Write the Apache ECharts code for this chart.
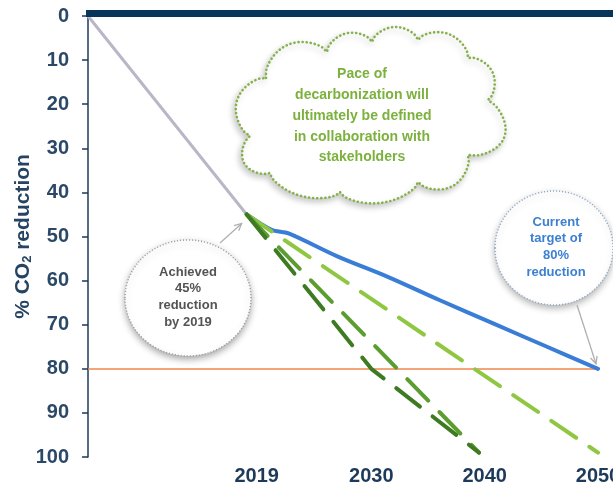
<!DOCTYPE html>
<html>
<head>
<meta charset="utf-8">
<script src="https://cdn.jsdelivr.net/npm/echarts@6/dist/echarts.min.js"></script>
<style>
  html, body { margin: 0; padding: 0; background: #ffffff; }
  #chart { width: 613px; height: 491px; }
</style>
</head>
<body>
<div id="chart"></div>
<script>
// Tick labels on the time axis
const yearLabels = [2019, 2030, 2040, 2050];

// Historic emissions reduction (%)
const historyYears = [2005, 2019];
const historyValues = [0, 45];

// Current target path to 80% by 2050
const targetYears = [2019, 2021.2, 2022.7, 2027, 2031.5, 2036, 2041, 2045.5, 2050];
const targetValues = [45, 48.5, 49.3, 54.5, 59.2, 64.4, 70, 75, 80];

// Possible faster decarbonization pathways
const path2050Years = [2019, 2050];
const path2050Values = [45, 99];
const path2040Years = [2019, 2039.5];
const path2040Values = [45, 99];
const pathFastYears = [2019, 2030, 2039.5];
const pathFastValues = [45, 80, 99];

// Reference level of the current target
const targetLevel = 80;

const zip = (xs, ys) => xs.map((x, i) => [x, ys[i]]);

const NAVY = '#1d3a5a';
const FONT = "'Liberation Sans', Arial, sans-serif";

const chart = echarts.init(document.getElementById('chart'), null, { renderer: 'canvas' });

const dashed = (color) => ({
  color: color,
  width: 4,
  type: [30, 16],
  cap: 'round'
});

chart.setOption({
  animation: false,
  backgroundColor: '#ffffff',
  grid: { left: 88, right: 15, top: 16, bottom: 34, containLabel: false, outerBoundsMode: 'none' },
  xAxis: {
    type: 'value',
    min: 2005,
    max: 2050,
    splitLine: { show: false },
    axisTick: { show: false },
    axisLine: { show: true, lineStyle: { color: '#6b6b6b', width: 1.5 } },
    axisLabel: {
      customValues: yearLabels,
      margin: 9,
      color: NAVY,
      fontFamily: FONT,
      fontSize: 20,
      fontWeight: 'bold',
      formatter: (v) => (v === 2019 ? '{s|2019}' : String(v)),
      rich: {
        s: { padding: [0, 0, 0, 20], color: NAVY, fontFamily: FONT, fontSize: 20, fontWeight: 'bold' }
      }
    }
  },
  yAxis: {
    type: 'value',
    inverse: true,
    min: 0,
    max: 100,
    interval: 10,
    splitLine: { show: false },
    axisLine: { show: true, lineStyle: { color: NAVY, width: 1.5 } },
    axisTick: { show: true, inside: false, length: 6, lineStyle: { color: NAVY, width: 1.5 } },
    axisLabel: {
      margin: 19,
      color: '#2b4868',
      fontFamily: FONT,
      fontSize: 20,
      fontWeight: 'bold'
    },
    name: '% CO{sub|2} reduction',
    nameLocation: 'middle',
    nameGap: 54,
    nameMoveOverlap: false,
    nameTextStyle: {
      color: '#254463',
      fontFamily: FONT,
      fontSize: 21,
      fontWeight: 'bold',
      rich: {
        sub: {
          color: '#254463',
          fontFamily: FONT,
          fontSize: 13,
          fontWeight: 'bold',
          padding: [9, 0, 0, 0]
        }
      }
    }
  },
  series: [
    {
      name: 'Achieved',
      type: 'line',
      data: zip(historyYears, historyValues),
      symbol: 'none',
      lineStyle: { color: '#b7b7c7', width: 3 },
      z: 3
    },
    {
      name: 'Current target',
      type: 'line',
      data: zip(targetYears, targetValues),
      symbol: 'none',
      smooth: 0.3,
      lineStyle: { color: '#3a7dd6', width: 4, cap: 'round', join: 'round' },
      z: 3,
      markLine: {
        silent: true,
        symbol: 'none',
        label: { show: false },
        lineStyle: { color: '#f0874a', width: 1.5, type: 'solid' },
        data: [{ yAxis: targetLevel }],
        z: 2
      }
    },
    {
      name: '2050 pathway',
      type: 'line',
      data: zip(path2050Years, path2050Values),
      symbol: 'none',
      lineStyle: dashed('#8fc743'),
      z: 4
    },
    {
      name: '2040 pathway',
      type: 'line',
      data: zip(path2040Years, path2040Values),
      symbol: 'none',
      lineStyle: dashed('#5b9d2e'),
      z: 4
    },
    {
      name: 'Fast pathway',
      type: 'line',
      data: zip(pathFastYears, pathFastValues),
      symbol: 'none',
      lineStyle: dashed('#3e7a22'),
      z: 5
    }
  ]
});

// Annotations: header bar, cloud, call-out ovals and their pointers
function arrowTo(from, to, color) {
  const dx = to[0] - from[0], dy = to[1] - from[1];
  const ang = Math.atan2(dy, dx);
  const head = 8, spread = 0.45;
  const p1 = [to[0] - head * Math.cos(ang - spread), to[1] - head * Math.sin(ang - spread)];
  const p2 = [to[0] - head * Math.cos(ang + spread), to[1] - head * Math.sin(ang + spread)];
  return [
    { type: 'line', shape: { x1: from[0], y1: from[1], x2: to[0], y2: to[1] },
      style: { stroke: color, lineWidth: 1.3 }, z: 120 },
    { type: 'polyline', shape: { points: [p1, to, p2] },
      style: { stroke: color, lineWidth: 1.3 }, z: 120 }
  ];
}

// Cloud outline: a ring of rounded bumps, each given as [start, end, bulge]
function cloudPoints(bumps) {
  const pts = [];
  bumps.forEach(([a, b, h]) => {
    const dx = b[0] - a[0], dy = b[1] - a[1];
    const len = Math.hypot(dx, dy);
    const nx = dy / len, ny = -dx / len;
    for (let i = 0; i < 24; i++) {
      const t = i / 24;
      const s = Math.pow(Math.sin(Math.PI * t), 0.6) * h;
      pts.push([a[0] + dx * t + nx * s, a[1] + dy * t + ny * s]);
    }
  });
  return pts;
}

const cloud = cloudPoints([
  [[266, 78], [327, 52], 22],
  [[327, 52], [372, 42], 14],
  [[372, 42], [418, 40], 14],
  [[418, 40], [468, 58], 16],
  [[468, 58], [488, 100], 16],
  [[488, 100], [468, 155], 28],
  [[468, 155], [418, 182], 20],
  [[418, 182], [340, 192], 16],
  [[340, 192], [270, 173], 14],
  [[270, 173], [250, 136], 18],
  [[250, 136], [266, 78], 22]
]);

const px2019 = chart.convertToPixel({ xAxisIndex: 0, yAxisIndex: 0 }, [historyYears[1], historyValues[1]]);
const px2050 = chart.convertToPixel({ xAxisIndex: 0, yAxisIndex: 0 }, [2050, targetLevel]);

chart.setOption({
  graphic: [
    { type: 'rect', shape: { x: 86, y: 10, width: 527, height: 7 },
      style: { fill: '#07365a' }, z: 110 },
    { type: 'polygon', shape: { points: cloud },
      style: { fill: '#ffffff', stroke: '#86b14a', lineWidth: 2.6, lineDash: [0.1, 4], lineCap: 'round',
               shadowBlur: 6, shadowOffsetX: -2, shadowOffsetY: 3, shadowColor: 'rgba(0,0,0,0.22)' }, z: 100 },
    { type: 'text', x: 362, y: 116,
      style: { text: 'Pace of\ndecarbonization will\nultimately be defined\nin collaboration with\nstakeholders',
               align: 'center', verticalAlign: 'middle', lineHeight: 20.8,
               font: "bold 14px 'Liberation Sans', Arial, sans-serif", fill: '#7cb13d' }, z: 101 },
    { type: 'ellipse', shape: { cx: 188, cy: 298, rx: 63, ry: 58 },
      style: { fill: '#ffffff', stroke: '#9a9a9a', lineWidth: 1.5, lineDash: [1, 2],
               shadowBlur: 7, shadowOffsetY: 3, shadowColor: 'rgba(0,0,0,0.35)' }, z: 100 },
    { type: 'text', x: 188, y: 297,
      style: { text: 'Achieved\n45%\nreduction\nby 2019', align: 'center', verticalAlign: 'middle',
               lineHeight: 16.7, font: "bold 13px 'Liberation Sans', Arial, sans-serif", fill: '#545454' }, z: 101 },
    { type: 'ellipse', shape: { cx: 554, cy: 248, rx: 59, ry: 57 },
      style: { fill: '#ffffff', stroke: '#8fa6c6', lineWidth: 1.5, lineDash: [1, 2],
               shadowBlur: 7, shadowOffsetY: 3, shadowColor: 'rgba(0,0,0,0.3)' }, z: 100 },
    { type: 'text', x: 556, y: 247,
      style: { text: 'Current\ntarget of\n80%\nreduction', align: 'center', verticalAlign: 'middle',
               lineHeight: 16.7, font: "bold 13px 'Liberation Sans', Arial, sans-serif", fill: '#3d7fd0' }, z: 101 }
  ]
    .concat(arrowTo([220, 243], [px2019[0] - 5, px2019[1] + 9], '#b0b0b0'))
    .concat(arrowTo([577, 305], [px2050[0] - 2, px2050[1] - 5], '#b0b0b0'))
});
</script>
</body>
</html>
